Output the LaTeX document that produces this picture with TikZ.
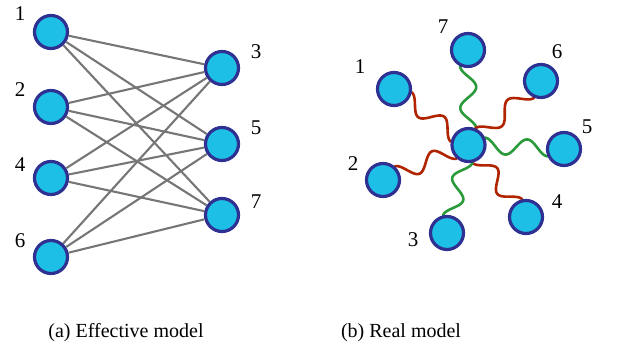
\documentclass[tikz,border=0pt]{standalone}
\usepackage{fontspec}
\setmainfont{Liberation Serif}
\usetikzlibrary{calc,backgrounds}
\definecolor{nodefill}{HTML}{1EBFE6}
\definecolor{nodeline}{HTML}{2E3192}
\definecolor{edgegray}{HTML}{767676}
\definecolor{wred}{HTML}{B02400}
\definecolor{wgreen}{HTML}{2A9A3A}
\begin{document}
\begin{tikzpicture}[x=1pt,y=-1pt,
  ball/.style={circle,draw=nodeline,fill=nodefill,line width=3.2pt,minimum size=33pt,inner sep=0pt},
  lab/.style={font=\fontsize{21}{22}\selectfont,inner sep=0pt},
  captext/.style={font=\fontsize{20}{22}\selectfont,inner sep=0pt},
  gedge/.style={draw=edgegray,line width=2.1pt},
  wavy/.style={line width=2.6pt,line cap=round,to path={
    let \p1=($(\tikztostart)!16pt!(\tikztotarget)$),
        \p2=($(\tikztotarget)!16pt!(\tikztostart)$),
        \n1={atan2(\y2-\y1,\x2-\x1)} in
    plot[domain=0:1,samples=70,smooth,variable=\t]
      ({\x1+\t*(\x2-\x1)-(#1)*8*sin(\n1)*cos(540*\t)},
       {\y1+\t*(\y2-\y1)+(#1)*8*cos(\n1)*cos(540*\t)})}}]
\useasboundingbox (0,0) rectangle (617,352);
% ---- (a) effective model
\node[ball] (a1) at (51,32) {};
\node[ball] (a2) at (51,107) {};
\node[ball] (a4) at (51,178) {};
\node[ball] (a6) at (51,257) {};
\node[ball] (a3) at (222,68) {};
\node[ball] (a5) at (222,144) {};
\node[ball] (a7) at (222,215) {};
\foreach \l in {a1,a2,a4,a6}{
  \foreach \r in {a3,a5,a7}{
    \draw[gedge] (\l) -- (\r);
  }
}
\node[lab] (l1) at (20,14) {1};
\node[lab] (l2) at (20,90) {2};
\node[lab] (l4) at (20,165) {4};
\node[lab] (l6) at (20,241) {6};
\node[lab] (l3) at (256,52) {3};
\node[lab] (l5) at (256,128) {5};
\node[lab] (l7) at (256,202) {7};
% ---- (b) real model
\node[ball] (c) at (468.5,145) {};
\node[ball] (b7) at (468,50) {};
\node[ball] (b6) at (541,81) {};
\node[ball] (b5) at (564,149) {};
\node[ball] (b4) at (526,217) {};
\node[ball] (b3) at (447,233) {};
\node[ball] (b2) at (383,180) {};
\node[ball] (b1) at (394,89) {};
\begin{scope}[on background layer]
\draw[wavy=-1,draw=wgreen] (c) to (b7);
\draw[wavy=1,draw=wred] (c) to (b6);
\draw[wavy=1,draw=wgreen] (c) to (b5);
\draw[wavy=-1,draw=wred] (c) to (b4);
\draw[wavy=1,draw=wgreen] (c) to (b3);
\draw[wavy=1,draw=wred] (c) to (b2);
\draw[wavy=1,draw=wred] (c) to (b1);
\end{scope}
\node[lab] (m7) at (443,27) {7};
\node[lab] (m6) at (557,52) {6};
\node[lab] (m5) at (587,127) {5};
\node[lab] (m4) at (557,202) {4};
\node[lab] (m3) at (413,240) {3};
\node[lab] (m2) at (353,164) {2};
\node[lab] (m1) at (360,67) {1};
% captions
\node[captext] (ca) at (126,333) {(a) Effective model};
\node[captext] (cb) at (401,333) {(b) Real model};
\end{tikzpicture}
\end{document}
